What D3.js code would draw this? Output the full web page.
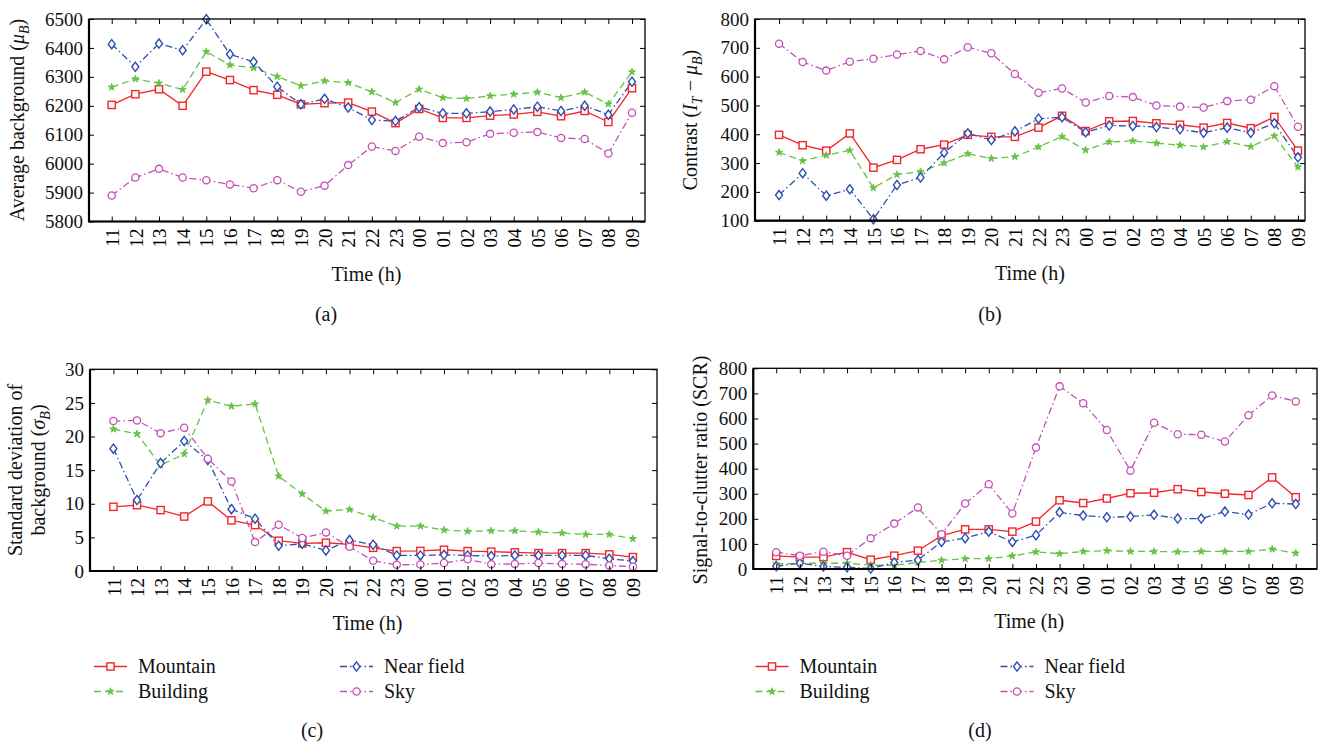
<!DOCTYPE html>
<html>
<head>
<meta charset="utf-8">
<script src="https://cdn.jsdelivr.net/npm/d3@7"></script>
<style>
  body { margin: 0; background: #fff; }
  svg { font-family: "Liberation Serif", "DejaVu Serif", serif; }
</style>
</head>
<body>
<svg id="chart" width="1328" height="746"></svg>
<script>
var hours = ["11","12","13","14","15","16","17","18","19","20","21","22","23","00","01","02","03","04","05","06","07","08","09"];

// (a) average background
var bgMountain = [6203,6240,6257,6200,6318,6289,6254,6238,6205,6209,6211,6180,6140,6189,6158,6158,6166,6170,6179,6164,6182,6144,6261];
var bgBuilding = [6264,6293,6278,6256,6387,6341,6331,6301,6269,6286,6280,6248,6211,6257,6228,6225,6234,6240,6247,6228,6247,6206,6317];
var bgNear     = [6413,6335,6415,6392,6499,6378,6352,6266,6205,6224,6194,6151,6147,6195,6174,6174,6180,6187,6197,6182,6200,6169,6283];
var bgSky      = [5890,5952,5982,5952,5943,5928,5915,5943,5903,5924,5995,6059,6044,6093,6071,6074,6103,6107,6109,6089,6085,6035,6176];
var bgTicks = [5800,5900,6000,6100,6200,6300,6400,6500];

// (b) contrast
var conMountain = [398,362,343,403,284,311,348,364,398,391,391,423,464,411,445,446,438,433,423,439,421,460,343];
var conBuilding = [337,308,327,344,214,260,270,300,332,316,322,356,392,345,373,377,369,362,356,374,357,394,286];
var conNear     = [189,265,187,209,105,224,250,336,403,380,410,454,459,407,430,429,425,417,405,423,405,438,320];
var conSky      = [714,651,621,652,662,677,689,660,702,681,609,544,559,510,533,529,500,496,493,515,520,567,426];
var conTicks = [100,200,300,400,500,600,700,800];

// (c) standard deviation
var sdMountain = [9.55,9.8,9.06,8.1,10.35,7.53,6.83,4.5,4.1,4.2,3.96,3.45,2.96,2.98,3.16,2.96,2.87,2.77,2.66,2.66,2.66,2.47,2.07];
var sdBuilding = [21.1,20.4,15.75,17.4,25.4,24.5,24.85,14.1,11.45,8.9,9.15,7.97,6.68,6.68,6.09,5.9,5.98,5.98,5.79,5.64,5.44,5.44,4.8];
var sdNear     = [18.2,10.55,16.05,19.33,16.5,9.2,7.77,3.75,4.05,3.06,4.6,3.9,2.32,2.32,2.4,2.32,2.22,2.32,2.32,2.32,2.32,1.82,1.47];
var sdSky      = [22.3,22.4,20.5,21.3,16.7,13.33,4.3,6.88,4.9,5.74,3.6,1.52,0.92,0.97,1.18,1.73,1.0,1.05,1.18,1.05,1.0,0.83,0.63];
var sdTicks = [0,5,10,15,20,25,30];

// (d) signal-to-clutter ratio
var scrMountain = [52,47,47,67,37,53,73,133,158,158,149,189,274,263,281,302,304,318,307,300,295,365,286];
var scrBuilding = [20,23,23,23,15,15,26,35,41,41,52,68,61,70,73,70,70,68,70,70,70,79,63];
var scrNear     = [11,23,10,7,2,26,36,108,123,149,108,135,226,213,206,209,216,201,201,229,217,262,259];
var scrSky      = [67,53,69,53,123,181,245,139,261,338,221,484,728,661,554,392,583,537,535,508,613,692,668];
var scrTicks = [0,100,200,300,400,500,600,700,800];

var seriesNames = ["Mountain", "Near field", "Building", "Sky"];
var styles = {
  "Mountain":   { color: "#f2262b", dash: null,            marker: "square" },
  "Building":   { color: "#66c245", dash: "7,4",           marker: "star" },
  "Near field": { color: "#2d4fb1", dash: "7,3,1.5,3",     marker: "diamond" },
  "Sky":        { color: "#c152b3", dash: "7,3,1.5,3",     marker: "circle" }
};

var svg = d3.select("#chart");

function drawMarker(g, type, x, y, color) {
  if (type == "square") {
    g.append("rect").attr("x", x - 3.6).attr("y", y - 3.6).attr("width", 7.2).attr("height", 7.2)
      .attr("fill", "#fff").attr("stroke", color).attr("stroke-width", 1.4);
  } else if (type == "diamond") {
    g.append("path").attr("d", "M" + x + "," + (y - 4.6) + "L" + (x + 3.5) + "," + y + "L" + x + "," + (y + 4.6) + "L" + (x - 3.5) + "," + y + "Z")
      .attr("fill", "#fff").attr("stroke", color).attr("stroke-width", 1.4);
  } else if (type == "circle") {
    g.append("circle").attr("cx", x).attr("cy", y).attr("r", 3.6)
      .attr("fill", "#fff").attr("stroke", color).attr("stroke-width", 1.3);
  } else {
    // small asterisk-like star
    g.append("path").attr("d", d3.symbol().type(d3.symbolStar).size(16)())
      .attr("transform", "translate(" + x + "," + y + ")")
      .attr("fill", color).attr("stroke", color).attr("stroke-width", 0.9);
  }
}

function drawPanel(p) {
  var x = d3.scaleLinear().domain([-p.padL, hours.length - 1 + p.padR]).range([p.left, p.right]);
  var y = d3.scaleLinear().domain(p.yDomain).range([p.bottom, p.top]);
  var g = svg.append("g");

  // series
  var line = d3.line().x(function(d, i) { return x(i); }).y(function(d) { return y(d); });
  p.series.forEach(function(s) {
    var st = styles[s.name];
    g.append("path").datum(s.values).attr("d", line)
      .attr("fill", "none").attr("stroke", st.color).attr("stroke-width", 1.3)
      .attr("stroke-dasharray", st.dash);
  });
  p.series.forEach(function(s) {
    var st = styles[s.name];
    s.values.forEach(function(v, i) { drawMarker(g, st.marker, x(i), y(v), st.color); });
  });

  // axes
  var xb = g.append("g").attr("transform", "translate(0," + p.bottom + ")")
    .call(d3.axisBottom(x).tickValues(d3.range(hours.length)).tickSize(-5).tickFormat(function(i) { return hours[i]; }));
  xb.select(".domain").remove();
  xb.selectAll("text").attr("transform", "rotate(-90)").attr("text-anchor", "end")
    .attr("x", -7).attr("y", 0).attr("dy", "0.35em").style("font-size", "19px").style("font-family", "Liberation Serif");

  var xt = g.append("g").attr("transform", "translate(0," + p.top + ")")
    .call(d3.axisTop(x).tickValues(d3.range(hours.length)).tickSize(-5).tickFormat(""));
  xt.select(".domain").remove();

  var yl = g.append("g").attr("transform", "translate(" + p.left + ",0)")
    .call(d3.axisLeft(y).tickValues(p.yTicks).tickSize(-5).tickPadding(6).tickFormat(d3.format("d")));
  yl.select(".domain").remove();
  yl.selectAll("text").style("font-size", "19px").style("font-family", "Liberation Serif").attr("fill", "#111");

  var yr = g.append("g").attr("transform", "translate(" + p.right + ",0)")
    .call(d3.axisRight(y).tickValues(p.yTicks).tickSize(-5).tickFormat(""));
  yr.select(".domain").remove();
  g.selectAll(".tick line").attr("stroke", "#000").attr("stroke-width", 1);

  // frame
  g.append("rect").attr("x", p.left).attr("y", p.top).attr("width", p.right - p.left).attr("height", p.bottom - p.top)
    .attr("fill", "none").attr("stroke", "#000").attr("stroke-width", 1.3);
  g.append("path").attr("d", "M" + p.left + "," + p.top + "V" + p.bottom + "H" + p.right)
    .attr("fill", "none").attr("stroke", "#000").attr("stroke-width", 2.2);

  // x label
  g.append("text").attr("x", (p.left + p.right) / 2 + p.xlabShift).attr("y", p.bottom + 59)
    .attr("text-anchor", "middle").style("font-size", "20px").attr("fill", "#111").text("Time (h)");

  return g;
}

// (a)
var ga = drawPanel({ left: 89, right: 645, top: 19, bottom: 221.5, padL: 0.96, padR: 0.55,
  yDomain: [5800, 6500], yTicks: bgTicks, xlabShift: -0.5,
  series: [{ name: "Mountain", values: bgMountain }, { name: "Building", values: bgBuilding },
           { name: "Near field", values: bgNear }, { name: "Sky", values: bgSky }] });
var ta = ga.append("text").attr("transform", "translate(24,120) rotate(-90)").attr("text-anchor", "middle")
  .style("font-size", "20px").attr("fill", "#111");
ta.append("tspan").text("Average background (");
ta.append("tspan").style("font-style", "italic").text("\u03bc");
ta.append("tspan").style("font-style", "italic").style("font-size", "14px").attr("dy", 5).text("B");
ta.append("tspan").attr("dy", -5).text(")");

// (b)
var gb = drawPanel({ left: 755, right: 1305, top: 19, bottom: 220.7, padL: 1.02, padR: 0.3,
  yDomain: [100, 800], yTicks: conTicks, xlabShift: 0,
  series: [{ name: "Mountain", values: conMountain }, { name: "Building", values: conBuilding },
           { name: "Near field", values: conNear }, { name: "Sky", values: conSky }] });
var tb = gb.append("text").attr("transform", "translate(697,120) rotate(-90)").attr("text-anchor", "middle")
  .style("font-size", "20px").attr("fill", "#111");
tb.append("tspan").text("Contrast (");
tb.append("tspan").style("font-style", "italic").text("I");
tb.append("tspan").style("font-style", "italic").style("font-size", "14px").attr("dy", 5).text("T");
tb.append("tspan").attr("dy", -5).text(" \u2212 ");
tb.append("tspan").style("font-style", "italic").text("\u03bc");
tb.append("tspan").style("font-style", "italic").style("font-size", "14px").attr("dy", 5).text("B");
tb.append("tspan").attr("dy", -5).text(")");

// (c)
var gc = drawPanel({ left: 90, right: 657, top: 369.3, bottom: 571, padL: 0.99, padR: 1.02,
  yDomain: [0, 30], yTicks: sdTicks, xlabShift: -6,
  series: [{ name: "Mountain", values: sdMountain }, { name: "Building", values: sdBuilding },
           { name: "Near field", values: sdNear }, { name: "Sky", values: sdSky }] });
gc.append("text").attr("transform", "translate(22,470) rotate(-90)").attr("text-anchor", "middle")
  .style("font-size", "20px").attr("fill", "#111").text("Standard deviation of");
var tc = gc.append("text").attr("transform", "translate(45,470) rotate(-90)").attr("text-anchor", "middle")
  .style("font-size", "20px").attr("fill", "#111");
tc.append("tspan").text("background (");
tc.append("tspan").style("font-style", "italic").text("\u03c3");
tc.append("tspan").style("font-style", "italic").style("font-size", "14px").attr("dy", 5).text("B");
tc.append("tspan").attr("dy", -5).text(")");

// (d)
var gd = drawPanel({ left: 753.3, right: 1317, top: 368.3, bottom: 569, padL: 0.97, padR: 0.9,
  yDomain: [0, 800], yTicks: scrTicks, xlabShift: -6,
  series: [{ name: "Mountain", values: scrMountain }, { name: "Building", values: scrBuilding },
           { name: "Near field", values: scrNear }, { name: "Sky", values: scrSky }] });
gd.append("text").attr("transform", "translate(707,470) rotate(-90)").attr("text-anchor", "middle")
  .style("font-size", "20px").attr("fill", "#111").text("Signal-to-clutter ratio (SCR)");

// legends
function legend(x0, x1, y0) {
  var pos = [[x0, y0], [x1, y0], [x0, y0 + 25], [x1, y0 + 25]];
  seriesNames.forEach(function(n, i) {
    var st = styles[n], px = pos[i][0], py = pos[i][1];
    var lg = svg.append("g");
    lg.append("line").attr("x1", px).attr("x2", px + 33).attr("y1", py).attr("y2", py)
      .attr("stroke", st.color).attr("stroke-width", 1.3).attr("stroke-dasharray", st.dash);
    drawMarker(lg, st.marker, px + 16.5, py, st.color);
    lg.append("text").attr("x", px + 44).attr("y", py).attr("dy", "0.33em")
      .style("font-size", "20px").attr("fill", "#111").text(n);
  });
}
legend(94, 340, 666.5);
legend(755.5, 1000.5, 666.5);

// captions
[["(a)", 326, 314], ["(b)", 990, 314], ["(c)", 312, 730], ["(d)", 980, 730]].forEach(function(c) {
  svg.append("text").attr("x", c[1]).attr("y", c[2]).attr("dy", "0.33em").attr("text-anchor", "middle")
    .style("font-size", "20px").attr("fill", "#111").text(c[0]);
});
</script>
</body>
</html>
